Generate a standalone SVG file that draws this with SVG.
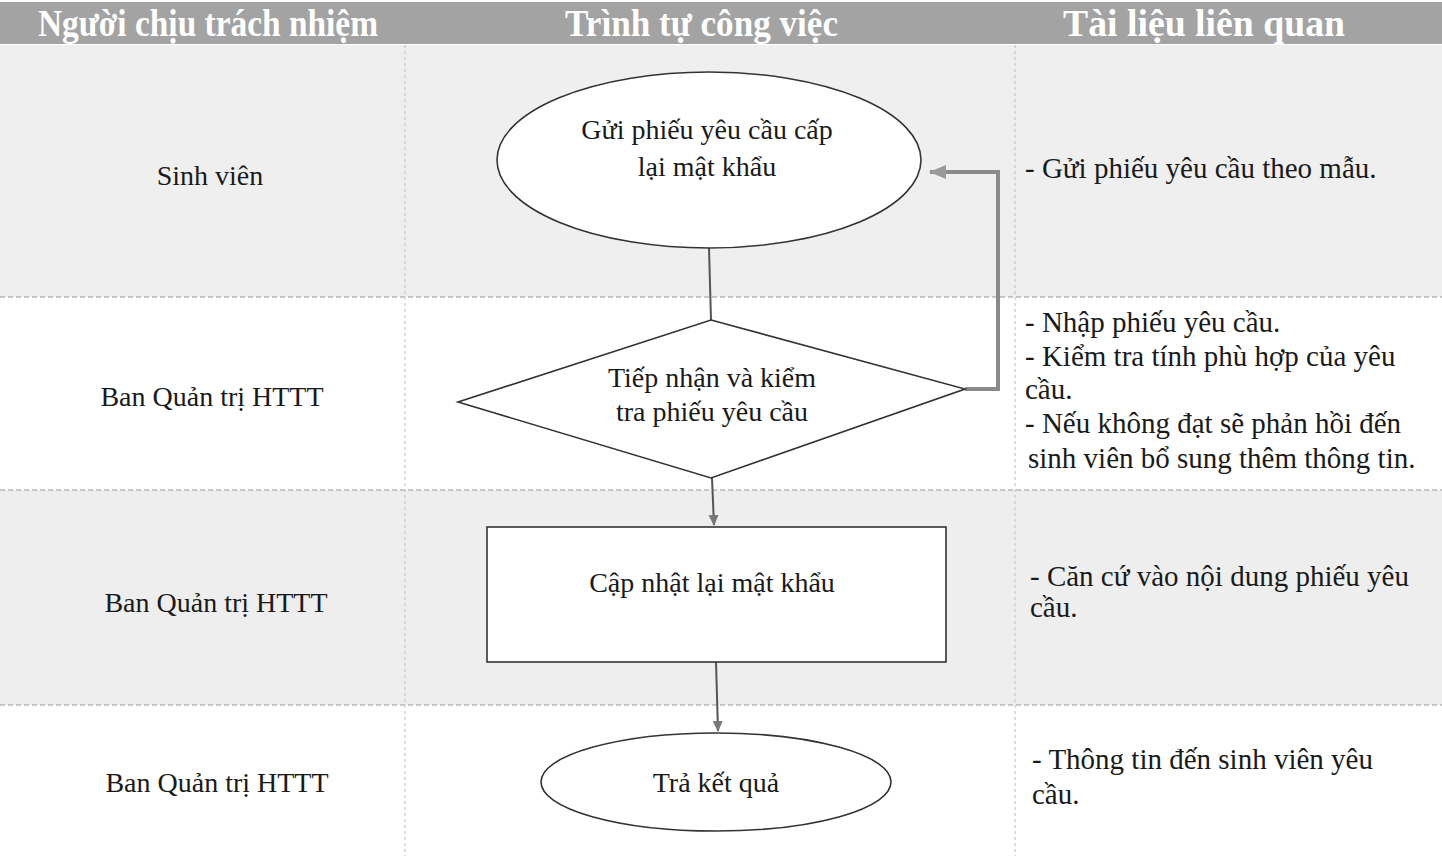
<svg xmlns="http://www.w3.org/2000/svg" width="1442" height="856" viewBox="0 0 1442 856">
<defs>
<style>
.t{font-family:"Liberation Serif","Times New Roman",serif;font-size:28px;fill:#1a1a1a}
.r{font-size:29px}
.c{text-anchor:middle}
.h{font-family:"Liberation Serif","Times New Roman",serif;font-size:38px;font-weight:bold;fill:#ffffff}
.shape{fill:#ffffff;stroke:#333333;stroke-width:1.6}
.sep{stroke:#9a9a9a;stroke-width:1.2;stroke-dasharray:5 3;fill:none}
.col{stroke:#bdbdbd;stroke-width:1;stroke-dasharray:3 3;fill:none}
.conn{stroke:#555555;stroke-width:2;fill:none}
.fb{stroke:#8a8a8a;stroke-width:4;fill:none}
</style>
<marker id="ah" markerWidth="12" markerHeight="12" refX="10" refY="6" orient="auto" markerUnits="userSpaceOnUse">
<path d="M0,1 L11,6 L0,11 Z" fill="#777777"/>
</marker>
<marker id="ah2" markerWidth="18" markerHeight="16" refX="16" refY="8" orient="auto" markerUnits="userSpaceOnUse">
<path d="M0,1 L17,8 L0,15 Z" fill="#9a9a9a"/>
</marker>
</defs>
<rect width="1442" height="856" fill="#ffffff"/>
<g id="background">
<rect x="0" y="45" width="1442" height="252" fill="#efefef"/>
<rect x="0" y="490" width="1442" height="215" fill="#eeeeee"/>
<rect x="0" y="2" width="1442" height="42" fill="#a3a3a3"/>
<line class="sep" x1="0" y1="297" x2="1442" y2="297"/>
<line class="sep" x1="0" y1="490" x2="1442" y2="490"/>
<line class="sep" x1="0" y1="705" x2="1442" y2="705"/>
<line class="col" x1="405" y1="45" x2="405" y2="856"/>
<line class="col" x1="1015" y1="45" x2="1015" y2="856"/>
</g>
<g id="header">
<text class="h" x="38" y="36" textLength="340" lengthAdjust="spacingAndGlyphs">Người chịu trách nhiệm</text>
<text class="h" x="565" y="36" textLength="273" lengthAdjust="spacingAndGlyphs">Trình tự công việc</text>
<text class="h" x="1063" y="36" textLength="282" lengthAdjust="spacingAndGlyphs">Tài liệu liên quan</text>
</g>
<g id="connectors">
<line class="conn" x1="709" y1="248" x2="711" y2="320"/>
<line class="conn" x1="712" y1="478" x2="714" y2="525" marker-end="url(#ah)"/>
<line class="conn" x1="716" y1="662" x2="718" y2="731" marker-end="url(#ah)"/>
<polyline class="fb" points="965,389 998,389 998,172 930,172" marker-end="url(#ah2)"/>
</g>
<g id="n1">
<ellipse class="shape" cx="709" cy="160" rx="212" ry="88"/>
<text class="t c" x="707" y="139">Gửi phiếu yêu cầu cấp</text>
<text class="t c" x="707" y="176">lại mật khẩu</text>
</g>
<g id="n2">
<polygon class="shape" points="711,320 965,389 711,478 458,402"/>
<text class="t c" x="712" y="387">Tiếp nhận và kiểm</text>
<text class="t c" x="712" y="421">tra phiếu yêu cầu</text>
</g>
<g id="n3">
<rect class="shape" x="487" y="527" width="459" height="135"/>
<text class="t c" x="712" y="592">Cập nhật lại mật khẩu</text>
</g>
<g id="n4">
<ellipse class="shape" cx="716" cy="782" rx="175" ry="49"/>
<text class="t c" x="716" y="792">Trả kết quả</text>
</g>
<g id="roles">
<text class="t c" x="210" y="185">Sinh viên</text>
<text class="t c" x="212" y="406">Ban Quản trị HTTT</text>
<text class="t c" x="216" y="612">Ban Quản trị HTTT</text>
<text class="t c" x="217" y="792">Ban Quản trị HTTT</text>
</g>
<g id="documents">
<text class="t r" x="1025" y="178">- Gửi phiếu yêu cầu theo mẫu.</text>
<text class="t r" x="1025" y="332">- Nhập phiếu yêu cầu.</text>
<text class="t r" x="1025" y="366">- Kiểm tra tính phù hợp của yêu</text>
<text class="t r" x="1025" y="399">cầu.</text>
<text class="t r" x="1025" y="433">- Nếu không đạt sẽ phản hồi đến</text>
<text class="t r" x="1028" y="468">sinh viên bổ sung thêm thông tin.</text>
<text class="t r" x="1030" y="586">- Căn cứ vào nội dung phiếu yêu</text>
<text class="t r" x="1030" y="617">cầu.</text>
<text class="t r" x="1032" y="769">- Thông tin đến sinh viên yêu</text>
<text class="t r" x="1032" y="804">cầu.</text>
</g>
</svg>
